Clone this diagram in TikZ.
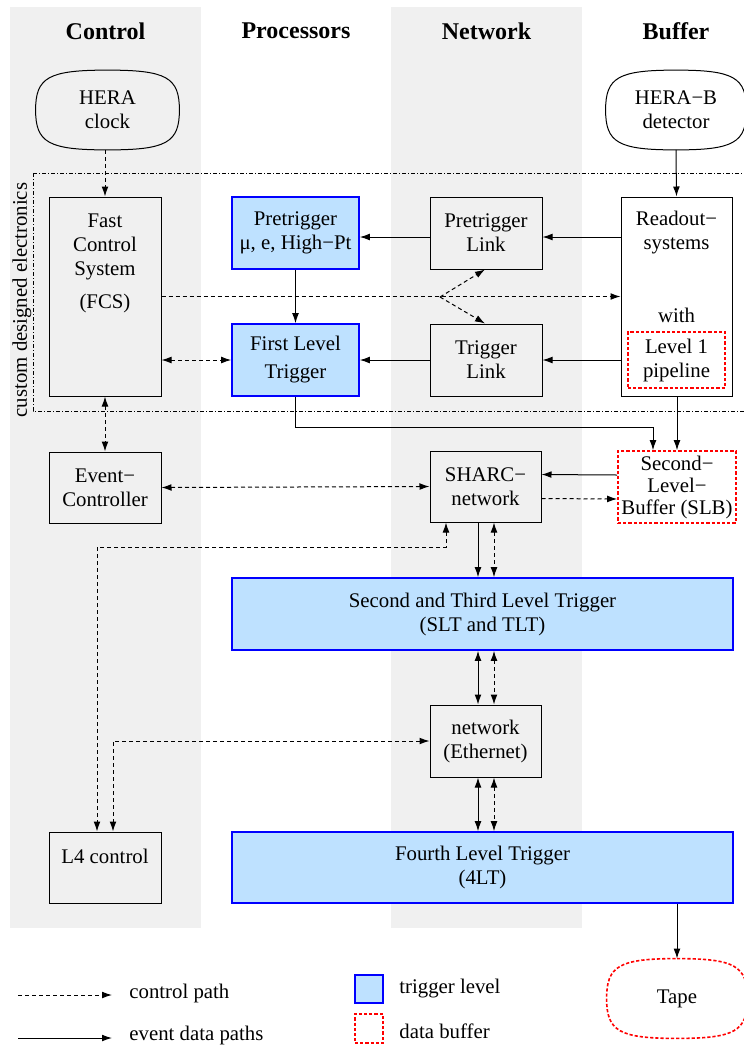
\documentclass[tikz,border=0pt]{standalone}
\usepackage{fontspec}
\setmainfont{Liberation Serif}
\usetikzlibrary{arrows.meta,calc}
\definecolor{colgrey}{RGB}{240,240,240}
\definecolor{trigblue}{RGB}{190,225,255}
\newcommand\drawblob[2][]{%
  \draw[#1] (#2.north)
    .. controls ($(#2.north)!0.82!(#2.north east)$) and ($(#2.east)!0.82!(#2.north east)$) .. (#2.east)
    .. controls ($(#2.east)!0.82!(#2.south east)$) and ($(#2.south)!0.82!(#2.south east)$) .. (#2.south)
    .. controls ($(#2.south)!0.82!(#2.south west)$) and ($(#2.west)!0.82!(#2.south west)$) .. (#2.west)
    .. controls ($(#2.west)!0.82!(#2.north west)$) and ($(#2.north)!0.82!(#2.north west)$) .. (#2.north) -- cycle;}
\begin{document}
\begin{tikzpicture}[x=0.5pt,y=-0.5pt,
  font=\fontsize{10.4}{12}\selectfont,
  >={Latex[length=5pt,width=3.4pt]},
  box/.style={draw, line width=0.5pt, align=center, inner sep=0pt},
  trig/.style={box, draw=blue, fill=trigblue, line width=0.8pt},
  buf/.style={box, draw=red, line width=0.8pt, dash pattern=on 1.6pt off 1pt},
  blob/.style={align=center, inner sep=0pt},
  lbl/.style={align=center, inner sep=0pt},
  head/.style={font=\bfseries\fontsize{12}{14}\selectfont, inner sep=0pt},
  ctl/.style={line width=0.5pt, dash pattern=on 2pt off 1.5pt},
  data/.style={line width=0.5pt},
  frame/.style={line width=0.5pt, dash pattern=on 2pt off 1pt on 0.5pt off 1pt}]
\useasboundingbox (0,0) rectangle (744,1046);
% columns
\fill[colgrey] (10,7) rectangle (201,928);
\fill[colgrey] (391,7) rectangle (582,928);
\node[head] (hctl) at (105.5,31) {Control};
\node[head] (hproc) at (296,31) {Processors};
\node[head] (hnet) at (486.5,31) {Network};
\node[head] (hbuf) at (676,31) {Buffer};
% custom electronics frame
\draw[frame] (33,173) -- (760,173);
\draw[frame] (33,173) -- (33,411) -- (760,411);
\node[rotate=90, inner sep=0pt] (cde) at (22,300) {custom designed electronics};
% sources
\node[blob, minimum width=71.5pt, minimum height=39.5pt] (clock) at (107.5,110) {HERA\\clock};
\drawblob[line width=0.5pt]{clock}
\node[blob, minimum width=70pt, minimum height=39.5pt] (det) at (676,110) {HERA−B\\detector};
\drawblob[line width=0.5pt]{det}
% row 1
\node[box, minimum width=56pt, minimum height=99.5pt] (fcs) at (105,296.5) {};
\node[lbl] (fcst) at (105,247) {Fast\\Control\\System};
\node[lbl] (fcsa) at (105,303) {(FCS)};
\node[trig, minimum width=63.5pt, minimum height=36pt] (pre) at (295.5,233) {Pretrigger\\μ, e, High−Pt};
\node[trig, minimum width=63.5pt, minimum height=36pt] (flt) at (295.5,360) {First Level\\[2pt]Trigger};
\node[box, minimum width=56pt, minimum height=36pt] (plink) at (486,233) {Pretrigger\\Link};
\node[box, minimum width=56pt, minimum height=36pt] (tlink) at (486,360) {Trigger\\Link};
\node[box, minimum width=55.5pt, minimum height=99.5pt] (ro) at (676.5,296.5) {};
\node[lbl] (rot) at (676.5,233) {Readout−\\systems};
\node[lbl] (row) at (676.5,315) {with};
\node[buf, minimum width=48.5pt, minimum height=28pt] (pipe) at (676.5,360) {Level 1\\pipeline};
% row 2
\node[box, minimum width=56pt, minimum height=35.5pt] (evc) at (105,487.5) {Event−\\Controller};
\node[box, minimum width=55.5pt, minimum height=35.5pt] (sharc) at (485.5,486.5) {SHARC−\\network};
\node[buf, minimum width=59pt, minimum height=36pt] (slb) at (677,487) {Second−\\[-1pt]Level−\\[-1pt]Buffer (SLB)};
\node[trig, minimum width=250.5pt, minimum height=36pt] (slt) at (482.5,614) {Second and Third Level Trigger\\(SLT and TLT)};
\node[box, minimum width=55.5pt, minimum height=36pt] (eth) at (485.5,741) {network\\(Ethernet)};
\node[box, minimum width=56pt, minimum height=35.5pt] (l4) at (105,867.5) {};
\node[lbl] (l4t) at (105,856) {L4 control};
\node[trig, minimum width=250.5pt, minimum height=35.5pt] (f4) at (482.5,867.5) {Fourth Level Trigger\\(4LT)};
\node[blob, minimum width=70pt, minimum height=39.5pt] (tape) at (677,998.5) {Tape};
\drawblob[draw=red, line width=0.8pt, dash pattern=on 1.6pt off 1pt]{tape}
% helper coordinates
\coordinate (br) at (440,297);
\coordinate (cA) at (97,547);
\coordinate (cB) at (113,741);
\coordinate (cE) at (653,427);
% connectors top
\draw[ctl,->] (fcs.north |- clock.south) -- (fcs.north);
\draw[data,->] (det.south) -- (ro.north);
\draw[data,->] ([yshift=-2pt]ro.west |- plink.east) -- ([yshift=-2pt]plink.east);
\draw[data,->] ([yshift=-2pt]plink.west) -- ([yshift=-2pt]pre.east);
\draw[data,->] (ro.west |- tlink.east) -- (tlink.east);
\draw[data,->] (tlink.west) -- (flt.east);
\draw[data,->] (pre.south) -- (flt.north);
\draw[ctl,<->] (fcs.east |- flt.west) -- (flt.west);
\draw[ctl,->] (fcs.east) -- (ro.west);
\draw[ctl,->] (br) -- ([xshift=-0.5pt]plink.south);
\draw[ctl,->] (br) -- ([xshift=-0.5pt]tlink.north);
\draw[ctl,<->] (fcs.south) -- (evc.north);
\draw[data,->] (flt.south) |- (cE) -- (cE |- slb.north);
\draw[data,->] (ro.south -| slb.north) -- (slb.north);
\draw[data,->] ([yshift=6pt]slb.west) -- ([yshift=6pt]sharc.east);
\draw[ctl,->] ([yshift=-6pt]sharc.east) -- ([yshift=-6pt]slb.west);
\draw[ctl,<->] (evc.east) -- (sharc.west);
\draw[ctl,<->] ([xshift=-19.75pt]sharc.south) |- (cA) -- (cA |- l4.north);
\draw[ctl,<->] (eth.west) -| (cB |- l4.north);
% vertical stacks
\draw[data,->] ([xshift=-3.75pt]sharc.south) -- ([xshift=-3.75pt]sharc.south |- slt.north);
\draw[ctl,<->] ([xshift=4.25pt]sharc.south) -- ([xshift=4.25pt]sharc.south |- slt.north);
\draw[data,<->] ([xshift=-3.75pt]eth.north |- slt.south) -- ([xshift=-3.75pt]eth.north);
\draw[ctl,<->] ([xshift=4.25pt]eth.north |- slt.south) -- ([xshift=4.25pt]eth.north);
\draw[data,<->] ([xshift=-3.75pt]eth.south) -- ([xshift=-3.75pt]eth.south |- f4.north);
\draw[ctl,<->] ([xshift=4.25pt]eth.south) -- ([xshift=4.25pt]eth.south |- f4.north);
\draw[data,->] (f4.south -| tape.north) -- (tape.north);
% legend
\coordinate (la1) at (18,995);
\coordinate (lb1) at (112,995);
\coordinate (la2) at (18,1038);
\coordinate (lb2) at (112,1038);
\draw[ctl,->] (la1) -- (lb1);
\draw[data,->] (la2) -- (lb2);
\node[anchor=west, inner sep=0pt] (lt1) at (129,993) {control path};
\node[anchor=west, inner sep=0pt] (lt2) at (129,1035) {event data paths};
\node[trig, minimum width=14pt, minimum height=14pt] (lsq1) at (369,989) {};
\node[buf, minimum width=14pt, minimum height=14.5pt] (lsq2) at (369,1028.5) {};
\node[anchor=west, inner sep=0pt] (lt3) at (399,989) {trigger level};
\node[anchor=west, inner sep=0pt] (lt4) at (399,1031) {data buffer};
\end{tikzpicture}
\end{document}
